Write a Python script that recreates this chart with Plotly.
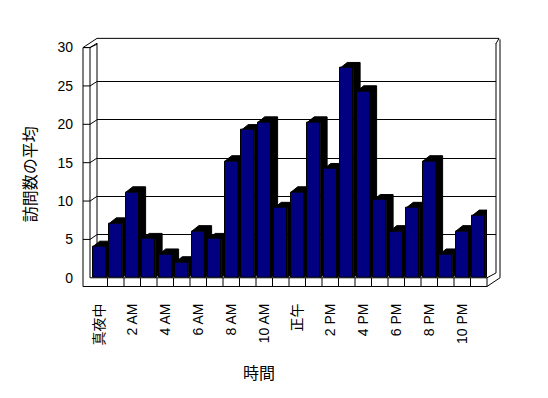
import plotly.graph_objects as go

# ---- data ----
hours = list(range(24))
visits = [4, 7, 11, 5, 3, 2, 6, 5, 15, 19, 20, 9, 11, 20, 14, 27, 24, 10, 6, 9, 15, 3, 6, 8]
tick_positions = [0, 2, 4, 6, 8, 10, 12, 14, 16, 18, 20, 22]
tick_labels = ["真夜中", "2 AM", "4 AM", "6 AM", "8 AM", "10 AM", "正午",
               "2 PM", "4 PM", "6 PM", "8 PM", "10 PM"]
y_ticks = [0, 5, 10, 15, 20, 25, 30]
x_title = "時間"
y_title = "訪問数の平均"

W, H = 548, 398
FONT = "Liberation Sans, Arial, Noto Sans CJK JP, sans-serif"


def fx(px):
    return px / W


def fy(py):
    return 1 - py / H


# 3D geometry (pixels)
FL, FI, BL, BR, OR = 83, 90, 97, 496, 500      # front-left, inner-left, back-left, back-right, outer-right
FLOOR_TOP, FLOOR_BOT = 282, 291
BACK_TOP, BACK_ZERO = 39.5, 277
OUT_TOP = 34.5
FRONT_TOP = 44
BAR_RIGHT = 487

bar_w = 0.78
dx, dy = 0.42, 0.71  # bevel depth in data units

# black bevel polygons (side + top) computed from values
px_, py_ = [], []
for h, v in zip(hours, visits):
    xl, xr = h - bar_w / 2, h + bar_w / 2
    px_ += [xl, xl + dx, xr + dx, xr + dx, xr, xr, xl, None]
    py_ += [v, v + dy, v + dy, dy, 0, v, v, None]

fig = go.Figure()

# back wall grid subplot (dummy)
fig.add_trace(go.Scatter(x=[0.5], y=[0], xaxis="x", yaxis="y", mode="markers",
                         marker=dict(opacity=0), hoverinfo="skip", showlegend=False))
# bevels
fig.add_trace(go.Scatter(x=px_, y=py_, xaxis="x2", yaxis="y2", mode="lines",
                         fill="toself", fillcolor="black", line=dict(color="black", width=1),
                         hoverinfo="skip", showlegend=False))
# front faces
fig.add_trace(go.Bar(x=hours, y=visits, xaxis="x2", yaxis="y3", width=bar_w,
                     marker=dict(color="#000080", line=dict(color="black", width=1)),
                     showlegend=False))
# label axis dummy
fig.add_trace(go.Scatter(x=[0], y=[0], xaxis="x2", yaxis="y4", mode="markers",
                         marker=dict(opacity=0), hoverinfo="skip", showlegend=False))

shapes = []


def line(x0, y0, x1, y1):
    shapes.append(dict(type="line", xref="paper", yref="paper",
                       x0=fx(x0), y0=fy(y0), x1=fx(x1), y1=fy(y1),
                       line=dict(color="black", width=1), layer="below"))


# left slab and outer frame
line(FL, FRONT_TOP, FL, FLOOR_BOT)
line(FL, FRONT_TOP, FI, FRONT_TOP)
line(FL, FRONT_TOP, BL, OUT_TOP)
line(BL, OUT_TOP, OR - 1, OUT_TOP)
line(OR - 1, OUT_TOP, BR, BACK_TOP + 0.5)
line(OR, OUT_TOP + 1, OR, FLOOR_TOP)
line(FI, FRONT_TOP, FI, FLOOR_TOP)
line(FI, FRONT_TOP, BL, BACK_TOP + 1)
line(BL, BACK_TOP, BL, BACK_ZERO)
line(BR, BACK_TOP, BR, BACK_ZERO)
# floor strip
line(FL, FLOOR_BOT, BAR_RIGHT, FLOOR_BOT)
line(FI, FLOOR_TOP, BAR_RIGHT, FLOOR_TOP)
line(BAR_RIGHT, FLOOR_TOP, BAR_RIGHT, FLOOR_BOT)
line(BAR_RIGHT, FLOOR_BOT, OR, FLOOR_TOP)
line(BAR_RIGHT, FLOOR_TOP, BR, BACK_ZERO)

# front tick connectors
for v in y_ticks[1:]:
    yf = FLOOR_TOP - v * (FLOOR_TOP - FRONT_TOP) / 30
    yb = BACK_ZERO - v * (BACK_ZERO - BACK_TOP) / 30
    line(FL, yf, FI, yf)
    line(FI, yf, BL, yb)

# category dividers on the floor strip
for h in hours[1:]:
    shapes.append(dict(type="line", xref="x2", yref="paper",
                       x0=h - 0.5, x1=h - 0.5, y0=fy(FLOOR_TOP), y1=fy(FLOOR_BOT),
                       line=dict(color="black", width=1), layer="below"))

fig.update_layout(
    width=W, height=H,
    margin=dict(l=0, r=0, t=0, b=0),
    paper_bgcolor="white",
    plot_bgcolor="rgba(0,0,0,0)",
    font=dict(family=FONT, size=14, color="black"),
    bargap=0,
    shapes=shapes,
    xaxis=dict(domain=[fx(BL), fx(BR)], range=[0, 1], visible=False, anchor="y"),
    yaxis=dict(domain=[fy(BACK_ZERO), fy(BACK_TOP)], range=[0, 30], anchor="x",
               tickvals=y_ticks, showticklabels=False, showgrid=True,
               gridcolor="black", gridwidth=1, zeroline=False, showline=False, ticks=""),
    xaxis2=dict(domain=[fx(FI + 1), fx(BAR_RIGHT)], range=[-0.5, 23.5], anchor="y2",
                tickmode="array", tickvals=tick_positions, ticktext=tick_labels,
                tickangle=-90, showgrid=False, zeroline=False, showline=False, ticks="",
                ticklabelstandoff=22, tickfont=dict(size=14)),
    yaxis2=dict(domain=[fy(FLOOR_TOP), fy(BACK_TOP + 1.5)], range=[0, 30], anchor="x2",
                visible=False),
    yaxis3=dict(overlaying="y2", range=[0, 30], anchor="x2", visible=False),
    yaxis4=dict(overlaying="y2", anchor="free", position=fx(FL), side="left",
                range=[0, 30 * (FLOOR_TOP - BACK_TOP - 1.5) / (FLOOR_TOP - FRONT_TOP)],
                tickvals=y_ticks, showgrid=False, zeroline=False, showline=False,
                ticks="", ticklabelstandoff=10, tickfont=dict(size=14)),
    annotations=[
        dict(text=x_title, xref="paper", yref="paper", x=fx(259), y=fy(379),
             xanchor="center", yanchor="middle",
             showarrow=False, font=dict(size=16, family="Noto Sans CJK JP")),
        dict(text=y_title, xref="paper", yref="paper", x=fx(29), y=fy(175),
             xanchor="center", yanchor="middle",
             textangle=-90, showarrow=False, font=dict(size=16, family="Noto Sans CJK JP")),
    ],
)

fig.write_html("out.html", config={"displayModeBar": False},
               post_script="document.body.style.margin='0';document.body.style.padding='0';")
